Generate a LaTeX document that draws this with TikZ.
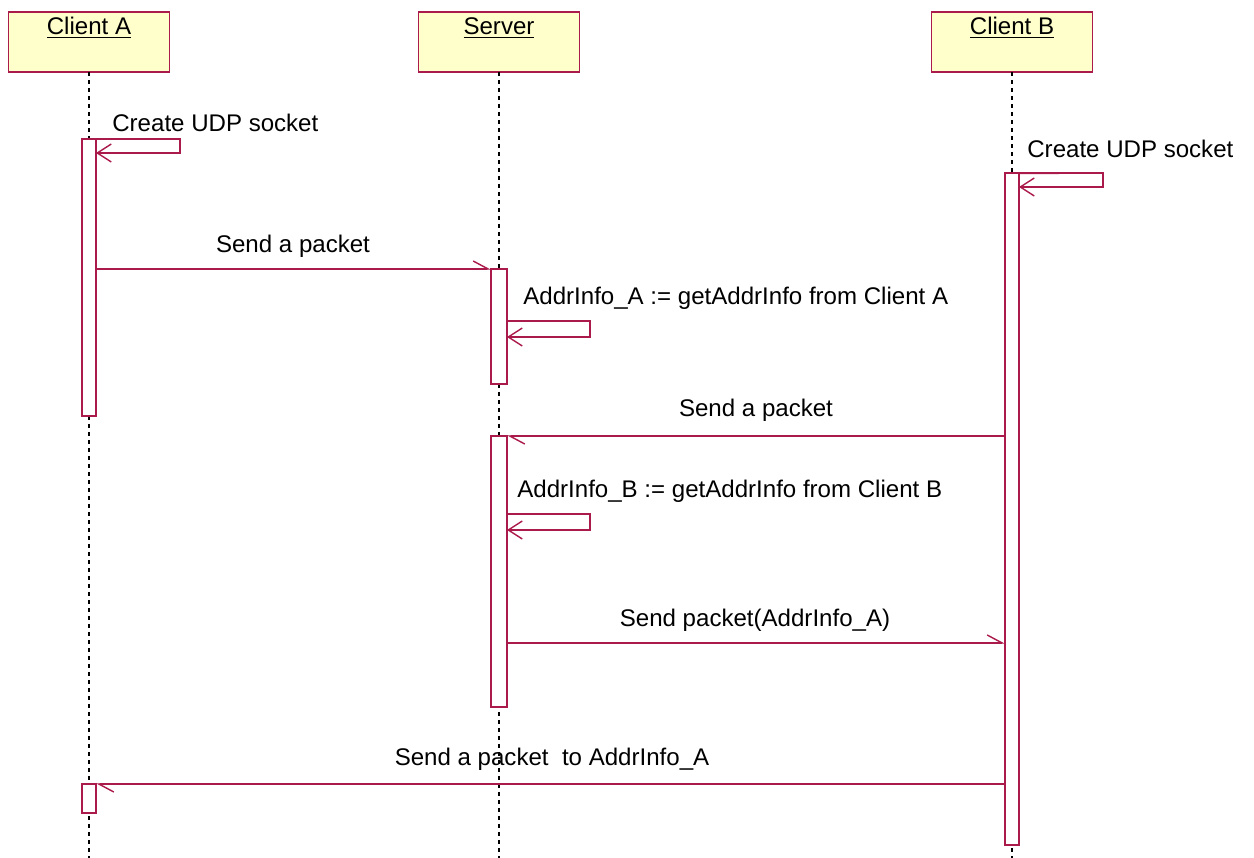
\documentclass[tikz,border=0pt]{standalone}
\usepackage{fontspec}
\setmainfont{Liberation Sans}
\usetikzlibrary{arrows.meta}
\definecolor{umlred}{RGB}{170,26,74}
\definecolor{umlfill}{RGB}{255,255,204}
\tikzset{
  header/.style={draw=umlred, fill=umlfill, line width=1.1pt, minimum width=3.22cm,
    minimum height=1.2cm, inner sep=0pt, outer sep=0pt},
  headtext/.style={inner sep=0pt, font=\fontsize{13.7pt}{16pt}\selectfont},
  lifeline/.style={draw=black, line width=0.9pt, dash pattern=on 0.08cm off 0.08cm},
  actbar/.style={draw=umlred, fill=white, line width=1.1pt, inner sep=0pt, outer sep=0pt,
    minimum width=0.28cm},
  msg/.style={draw=umlred, line width=1.1pt,
    -{Straight Barb[harpoon, length=0.3cm, width=0.32cm, line width=0.8pt]}},
  selfmsg/.style={draw=umlred, line width=1.1pt,
    -{Straight Barb[length=0.28cm, width=0.36cm, line width=0.8pt]}},
  lbl/.style={inner sep=0pt, font=\fontsize{13.7pt}{16pt}\selectfont}
}
\begin{document}
\begin{tikzpicture}[x=0.02cm, y=-0.02cm]
\useasboundingbox (0,0) rectangle (1254,858);

% participants
\node[header] (hA) at (89,42) {};
\node[header] (hS) at (499,42) {};
\node[header] (hB) at (1012,42) {};
\node[headtext] (tA) at (89,28) {\underline{Client A}};
\node[headtext] (tS) at (499,28) {\underline{Server}};
\node[headtext] (tB) at (1012,28) {\underline{Client B}};

% lifelines
\coordinate (endA) at (89,858);
\coordinate (endS) at (499,858);
\coordinate (endB) at (1012,858);
\draw[lifeline] (hA.south) -- (endA);
\draw[lifeline] (hS.south) -- (endS);
\draw[lifeline] (hB.south) -- (endB);

% activation bars
\node[actbar, minimum height=5.54cm] (aA1) at (89,277.5) {};
\node[actbar, minimum height=0.58cm] (aA2) at (89,798.5) {};
\node[actbar, minimum width=0.32cm, minimum height=2.3cm] (aS1) at (499,326.5) {};
\node[actbar, minimum width=0.32cm, minimum height=5.42cm] (aS2) at (499,571.5) {};
\node[actbar, minimum height=13.44cm] (aB1) at (1012,509) {};

% self messages
\draw[selfmsg] (aA1.north east) -- (180,139) -- (180,153) -- (aA1.east |- 0,153);
\node[lbl, anchor=west] (lA) at (112,123) {Create UDP socket};

\draw[selfmsg] (aB1.north east) -- (1103,173) -- (1103,187) -- (aB1.east |- 0,187);
\node[lbl, anchor=west] (lB) at (1027,149) {Create UDP socket};

\draw[selfmsg] (aS1.east |- 0,321) -- (590,321) -- (590,337) -- (aS1.east |- 0,337);
\node[lbl, anchor=west] (lS1) at (523,298) {AddrInfo\_A := getAddrInfo from Client A};

\draw[selfmsg] (aS2.east |- 0,514) -- (590,514) -- (590,530) -- (aS2.east |- 0,530);
\node[lbl, anchor=west] (lS2) at (517,491) {AddrInfo\_B := getAddrInfo from Client B};

% messages between participants
\draw[msg] (aA1.east |- 0,269) -- (aS1.north west);
\node[lbl] (l1) at (293,246) {Send a packet};

\draw[msg] (aB1.west |- 0,436) -- (aS2.north east);
\node[lbl] (l2) at (756,410) {Send a packet};

\draw[msg] (aS2.east |- 0,643) -- (aB1.west |- 0,643);
\node[lbl] (l3) at (755,620) {Send packet(AddrInfo\_A)};

\draw[msg] (aB1.west |- 0,784) -- (aA2.north east);
\node[lbl] (l4) at (552,759) {Send a packet\ \ to AddrInfo\_A};
\end{tikzpicture}
\end{document}
